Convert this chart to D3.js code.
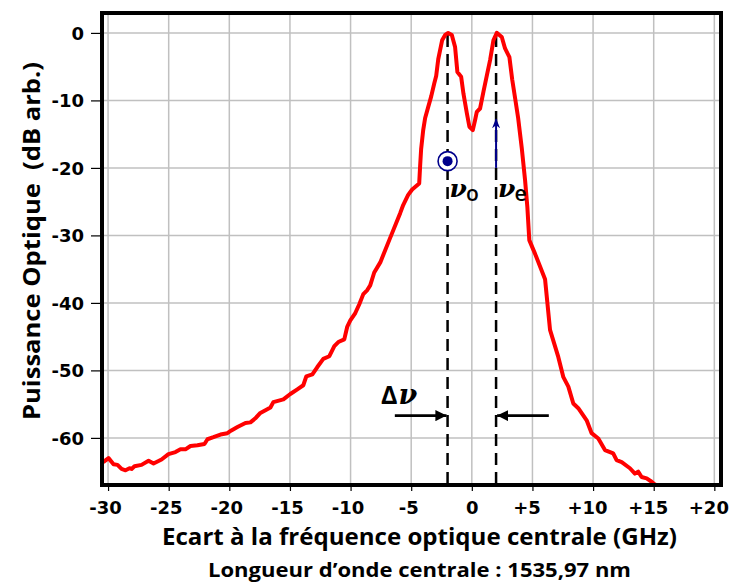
<!DOCTYPE html>
<html>
<head>
<meta charset="utf-8">
<script src="https://cdn.jsdelivr.net/npm/d3@7"></script>
<style>
  body { margin: 0; background: #fff; }
  svg { display: block; font-family: "Open Sans", "DejaVu Sans", sans-serif; }
</style>
</head>
<body>
<div id="chart"></div>
<script>
// spectrum (GHz offset, dB arb.)
const freq = [
  -30.4, -29.96, -29.55, -29.22, -28.89, -28.56, -28.23, -28.06, -27.82, -27.24,
  -26.66, -26.25, -25.59, -25.02, -24.44, -24.03, -23.62, -23.2, -22.63, -22.05,
  -21.8, -21.31, -20.73, -20.16, -19.83, -19.33, -19.0, -18.67, -18.26, -17.85,
  -17.44, -17.02, -16.61, -16.37, -15.54, -14.97, -14.39, -13.9, -13.65, -13.15,
  -12.74, -12.25, -11.75, -11.34, -11.01, -10.52, -10.27, -10.02, -9.61, -9.28,
  -8.95, -8.62, -8.38, -8.05, -7.55, -6.81, -5.91, -5.66, -5.25, -4.92,
  -4.34, -4.26, -4.18, -4.01, -3.85, -3.6, -3.35, -3.1, -2.94, -2.77,
  -2.45, -2.2, -1.95, -1.65, -1.38, -1.19, -0.88, -0.69, -0.41, -0.2,
  0.08, 0.27, 0.41, 0.68, 0.96, 1.24, 1.51, 1.78, 2.06, 2.47,
  2.74, 3.1, 3.33, 3.58, 3.82, 4.12, 4.39, 4.58, 4.74, 5.21,
  6.04, 6.45, 7.13, 7.55, 7.96, 8.37, 8.78, 9.47, 9.88, 10.43,
  10.98, 11.66, 11.94, 12.36, 13.04, 13.45, 13.72, 14.0, 14.42, 14.83,
  15.1, 15.4
];
const power = [
  -63.6, -63.0, -63.9, -64.0, -64.6, -64.8, -64.5, -64.6, -64.2, -64.0,
  -63.4, -63.8, -63.2, -62.4, -62.1, -61.7, -61.7, -61.2, -61.1, -60.9,
  -60.2, -59.9, -59.5, -59.3, -58.9, -58.4, -58.1, -57.8, -57.7, -57.1,
  -56.3, -55.9, -55.5, -54.7, -54.3, -53.5, -52.8, -52.2, -50.9, -50.6,
  -49.5, -48.3, -47.9, -46.4, -45.8, -45.4, -43.5, -42.6, -41.5, -40.2,
  -38.7, -38.1, -37.4, -35.5, -34.0, -30.7, -26.7, -25.5, -24.0, -23.2,
  -22.3, -19.6, -17.2, -14.4, -12.6, -11.0, -9.4, -7.5, -6.4, -3.9,
  -1.1, -0.3, 0, -0.3, -2.1, -5.8, -6.5, -9.0, -11.9, -13.9,
  -14.4, -12.9, -11.7, -11.2, -8.7, -6.3, -4.0, -1.1, 0, -0.6,
  -2.3, -3.6, -6.9, -9.8, -12.6, -17.1, -21.8, -25.8, -30.7, -32.7,
  -36.5, -44.0, -48.0, -51.0, -52.4, -54.9, -55.6, -57.4, -59.3, -60.1,
  -61.8, -62.3, -63.3, -63.6, -64.5, -65.3, -65.0, -65.8, -66.0, -66.5,
  -66.9, -67.3
];

const xTicks = [-30, -25, -20, -15, -10, -5, 0, 5, 10, 15, 20];
const yTicks = [0, -10, -20, -30, -40, -50, -60];
const peaks = [-2, 2];          // nu_o, nu_e
const markerLevel = -19;        // circle on nu_o
const arrowFrom = -20, arrowTo = -12.8;  // blue arrow on nu_e
const deltaLevel = -56.7;       // delta-nu arrows

const W = 729, H = 582;
const margin = { top: 13, right: 8, bottom: 97, left: 102 };
const iw = W - margin.left - margin.right;
const ih = H - margin.top - margin.bottom;

const svg = d3.select('#chart').append('svg').attr('width', W).attr('height', H);

const x = d3.scaleLinear().domain([-30.5, 20.55]).range([margin.left, margin.left + iw]);
const y = d3.scaleLinear().domain([-66.98, 2.95]).range([margin.top + ih, margin.top]);

const defs = svg.append('defs');
defs.append('clipPath').attr('id', 'plot')
  .append('rect').attr('x', margin.left).attr('y', margin.top).attr('width', iw).attr('height', ih);

// grid
const grid = svg.append('g').attr('stroke', '#c0c0c0').attr('stroke-width', 1.5);
xTicks.forEach((t) => {
  grid.append('line').attr('x1', x(t)).attr('x2', x(t)).attr('y1', margin.top).attr('y2', margin.top + ih);
});
yTicks.forEach((t) => {
  grid.append('line').attr('x1', margin.left).attr('x2', margin.left + iw).attr('y1', y(t)).attr('y2', y(t));
});

// axes (ticks + labels), domain line drawn by the frame
const fmtX = (d) => (d > 0 ? `+${d}` : d < 0 ? `-${-d}` : '0');
const xAxis = svg.append('g').attr('transform', `translate(0,${margin.top + ih})`)
  .call(d3.axisBottom(x).tickValues(xTicks).tickSize(6).tickPadding(5).tickFormat(fmtX));
const yAxis = svg.append('g').attr('transform', `translate(${margin.left},0)`)
  .call(d3.axisLeft(y).tickValues(yTicks).tickSize(11).tickPadding(7).tickFormat((d) => (d < 0 ? `-${-d}` : '0')));
[xAxis, yAxis].forEach((a) => {
  a.select('.domain').remove();
  a.selectAll('.tick line').attr('stroke', '#000').attr('stroke-width', 1.2);
  a.selectAll('.tick text').attr('fill', '#000').attr('font-size', 18).attr('font-weight', 700)
    .attr('font-family', '"DejaVu Sans", sans-serif');
});
xAxis.selectAll('.tick text').attr('dy', '0.98em')
  .attr('dx', (d) => (d > 0 ? -6 : d < 0 ? -3 : 0));
yAxis.selectAll('.tick text').attr('dy', '0.36em');

// dashed lines at the two peaks
peaks.forEach((p) => {
  svg.append('line').attr('x1', x(p)).attr('x2', x(p))
    .attr('y1', y(-0.3)).attr('y2', margin.top + ih - 2)
    .attr('stroke', '#000').attr('stroke-width', 2.5).attr('stroke-dasharray', '12,7');
});

// spectrum
const line = d3.line().x((d, i) => x(freq[i])).y((d) => y(d));
svg.append('path').datum(power)
  .attr('clip-path', 'url(#plot)')
  .attr('d', line)
  .attr('fill', 'none').attr('stroke', '#ff0000').attr('stroke-width', 4).attr('stroke-linejoin', 'round');

// circle marker at nu_o
svg.append('circle').attr('cx', x(peaks[0])).attr('cy', y(markerLevel)).attr('r', 9.5)
  .attr('fill', '#fff').attr('stroke', '#00008b').attr('stroke-width', 1.6);
svg.append('circle').attr('cx', x(peaks[0])).attr('cy', y(markerLevel)).attr('r', 5)
  .attr('fill', '#00008b');

// blue arrow at nu_e
defs.append('marker').attr('id', 'blueHead').attr('viewBox', '0 0 10 10').attr('refX', 9).attr('refY', 5)
  .attr('markerWidth', 5).attr('markerHeight', 5).attr('orient', 'auto')
  .append('path').attr('d', 'M0,1 L10,5 L0,9 L3,5 Z').attr('fill', '#00008b');
svg.append('line').attr('x1', x(peaks[1])).attr('x2', x(peaks[1]))
  .attr('y1', y(arrowFrom)).attr('y2', y(arrowTo))
  .attr('stroke', '#00008b').attr('stroke-width', 2).attr('marker-end', 'url(#blueHead)');

// nu labels
const nuLabel = (px, sub) => {
  const t = svg.append('text').attr('x', px + 2).attr('y', y(-24.3)).attr('fill', '#000');
  t.append('tspan').attr('font-family', '"DejaVu Serif", serif').attr('font-style', 'italic')
    .attr('font-weight', 700).attr('font-size', 25).text('ν');
  t.append('tspan').attr('font-size', 21).attr('font-weight', 600).attr('dy', 4).attr('dx', -1).text(sub);
};
nuLabel(x(peaks[0]), 'o');
nuLabel(x(peaks[1]), 'e');

// delta nu arrows
defs.append('marker').attr('id', 'blackHead').attr('viewBox', '0 0 10 10').attr('refX', 10).attr('refY', 5)
  .attr('markerWidth', 4).attr('markerHeight', 4).attr('orient', 'auto')
  .append('path').attr('d', 'M0,0 L10,5 L0,10 Z').attr('fill', '#000');
svg.append('line').attr('x1', x(-6.35)).attr('x2', x(peaks[0]) - 1).attr('y1', y(deltaLevel)).attr('y2', y(deltaLevel))
  .attr('stroke', '#000').attr('stroke-width', 2.8).attr('marker-end', 'url(#blackHead)');
svg.append('line').attr('x1', x(6.35)).attr('x2', x(peaks[1]) + 1).attr('y1', y(deltaLevel)).attr('y2', y(deltaLevel))
  .attr('stroke', '#000').attr('stroke-width', 2.8).attr('marker-end', 'url(#blackHead)');
const dl = svg.append('text').attr('x', 381).attr('y', 404).attr('fill', '#000').attr('font-weight', 700);
dl.append('tspan').attr('font-size', 25).text('Δ');
dl.append('tspan').attr('font-family', '"DejaVu Serif", serif').attr('font-style', 'italic')
  .attr('font-size', 27).attr('dx', 1).text('ν');

// frame
svg.append('rect').attr('x', margin.left).attr('y', margin.top).attr('width', iw).attr('height', ih)
  .attr('fill', 'none').attr('stroke', '#000').attr('stroke-width', 4);

// titles
svg.append('text').attr('transform', 'translate(40,241) rotate(-90)')
  .attr('text-anchor', 'middle').attr('font-size', 24).attr('font-weight', 700)
  .attr('textLength', 358).attr('lengthAdjust', 'spacingAndGlyphs')
  .style('white-space', 'pre')
  .text('Puissance Optique  (dB arb.)');
svg.append('text').attr('x', 419.5).attr('y', 545)
  .attr('text-anchor', 'middle').attr('font-size', 24).attr('font-weight', 700)
  .attr('textLength', 515).attr('lengthAdjust', 'spacingAndGlyphs')
  .text('Ecart à la fréquence optique centrale (GHz)');
svg.append('text').attr('x', 419.5).attr('y', 577)
  .attr('text-anchor', 'middle').attr('font-size', 20).attr('font-weight', 700)
  .attr('textLength', 423).attr('lengthAdjust', 'spacingAndGlyphs')
  .text('Longueur d’onde centrale : 1535,97 nm');
</script>
</body>
</html>
